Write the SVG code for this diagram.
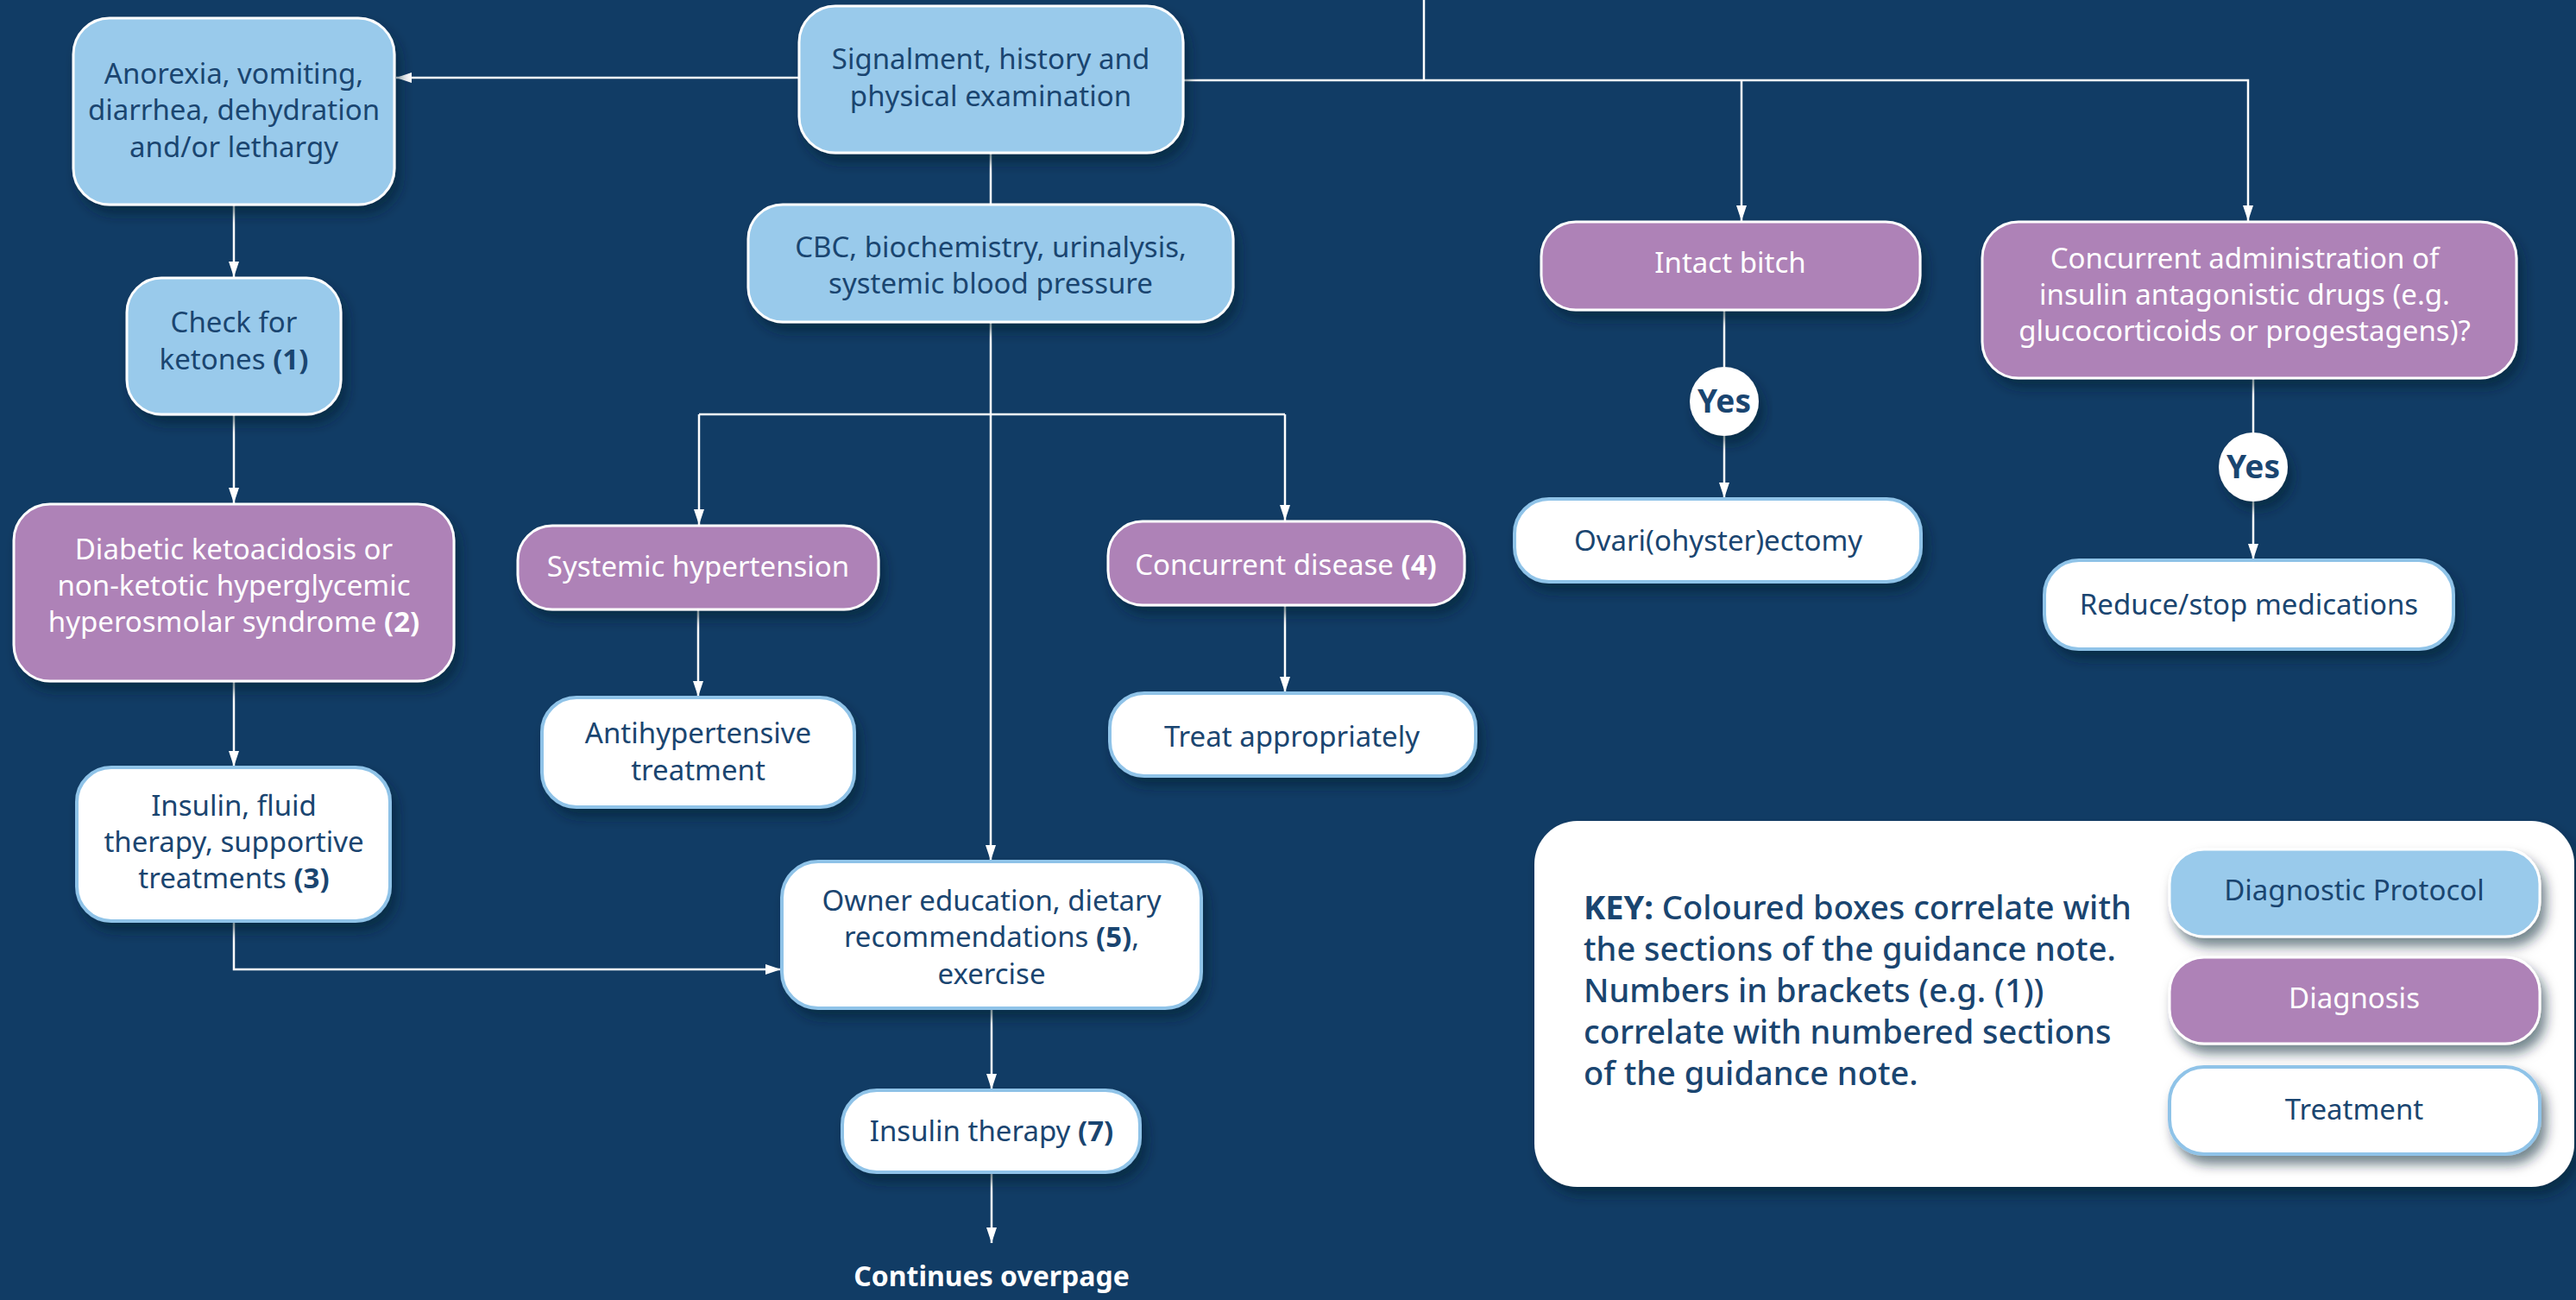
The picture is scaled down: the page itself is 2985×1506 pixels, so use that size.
<svg xmlns="http://www.w3.org/2000/svg" width="2985" height="1506" viewBox="0 0 2985 1506">
<style>
.bg{fill:#113c65}
.blue{fill:#99caeb;stroke:#ffffff;stroke-width:3}
.purple{fill:#ae82b7;stroke:#ffffff;stroke-width:3}
.white{fill:#ffffff;stroke:#8fc3e8;stroke-width:4}
.sh{filter:url(#shadow)}
text{font-family:"Noto Sans","Open Sans","Liberation Sans",sans-serif;font-size:33px;text-anchor:middle}
.tn{fill:#1a4570}
.tw{fill:#ffffff}
.b{font-weight:700}
.yes{font-size:37px;font-weight:700;fill:#1a4570}
.cont{font-size:32px;font-weight:700;fill:#ffffff}
.key{font-size:38px;font-weight:500;fill:#1a4570;text-anchor:start}
.conn path{fill:none;stroke:#ffffff;stroke-width:2.5}
</style>
<defs>
<filter id="shadow" x="-20%" y="-20%" width="140%" height="160%">
<feDropShadow dx="6" dy="10" stdDeviation="7" flood-color="#061a2e" flood-opacity="0.55"/>
</filter>
<marker id="ah" viewBox="0 0 18 12" refX="18" refY="6" markerWidth="18" markerHeight="12" markerUnits="userSpaceOnUse" orient="auto">
<path d="M0 0 L18 6 L0 12 z" fill="#ffffff"/>
</marker>
</defs>
<rect class="bg" x="0" y="0" width="2985" height="1506"/>

<g id="connectors" class="conn">
<path d="M926 90 H459" marker-end="url(#ah)"/>
<path d="M271 237 V321" marker-end="url(#ah)"/>
<path d="M271 480 V583" marker-end="url(#ah)"/>
<path d="M271 789 V888" marker-end="url(#ah)"/>
<path d="M271 1067 V1123 H905" marker-end="url(#ah)"/>
<path d="M1148 177 V237"/>
<path d="M1148 373 V997" marker-end="url(#ah)"/>
<path d="M810 480 H1489"/>
<path d="M810 480 V608" marker-end="url(#ah)"/>
<path d="M1489 480 V603" marker-end="url(#ah)"/>
<path d="M809 706 V807" marker-end="url(#ah)"/>
<path d="M1489 701 V802" marker-end="url(#ah)"/>
<path d="M1149 1168 V1262" marker-end="url(#ah)"/>
<path d="M1149 1358 V1440" marker-end="url(#ah)"/>
<path d="M1650 0 V93"/>
<path d="M1371 93 H2605 V256" marker-end="url(#ah)"/>
<path d="M2018 93 V256" marker-end="url(#ah)"/>
<path d="M1998 359 V425"/>
<path d="M1998 505 V577" marker-end="url(#ah)"/>
<path d="M2611 438 V501"/>
<path d="M2611 581 V648" marker-end="url(#ah)"/>
</g>

<g id="n_signalment">
<rect class="blue sh" x="926" y="7" width="445" height="170" rx="42"/>
<text class="tn" x="1148" y="80">Signalment, history and</text>
<text class="tn" x="1148" y="123">physical examination</text>
</g>

<g id="n_anorexia">
<rect class="blue sh" x="85" y="21" width="372" height="216" rx="42"/>
<text class="tn" x="271" y="97">Anorexia, vomiting,</text>
<text class="tn" x="271" y="139">diarrhea, dehydration</text>
<text class="tn" x="271" y="182">and/or lethargy</text>
</g>

<g id="n_ketones">
<rect class="blue sh" x="147" y="322" width="248" height="158" rx="40"/>
<text class="tn" x="271" y="385">Check for</text>
<text class="tn" x="271" y="428">ketones <tspan class="b">(1)</tspan></text>
</g>

<g id="n_cbc">
<rect class="blue sh" x="867" y="237" width="562" height="136" rx="40"/>
<text class="tn" x="1148" y="298">CBC, biochemistry, urinalysis,</text>
<text class="tn" x="1148" y="340">systemic blood pressure</text>
</g>

<g id="n_dka">
<rect class="purple sh" x="16" y="584" width="510" height="205" rx="42"/>
<text class="tw" x="271" y="648">Diabetic ketoacidosis or</text>
<text class="tw" x="271" y="690">non-ketotic hyperglycemic</text>
<text class="tw" x="271" y="732">hyperosmolar syndrome <tspan class="b">(2)</tspan></text>
</g>

<g id="n_insulin_fluid">
<rect class="white sh" x="89" y="889" width="363" height="178" rx="40"/>
<text class="tn" x="271" y="945">Insulin, fluid</text>
<text class="tn" x="271" y="987">therapy, supportive</text>
<text class="tn" x="271" y="1029">treatments <tspan class="b">(3)</tspan></text>
</g>

<g id="n_hypertension">
<rect class="purple sh" x="600" y="609" width="418" height="97" rx="40"/>
<text class="tw" x="809" y="668">Systemic hypertension</text>
</g>

<g id="n_antihyp">
<rect class="white sh" x="628" y="808" width="362" height="127" rx="40"/>
<text class="tn" x="809" y="861">Antihypertensive</text>
<text class="tn" x="809" y="904">treatment</text>
</g>

<g id="n_concurrent">
<rect class="purple sh" x="1284" y="604" width="413" height="97" rx="40"/>
<text class="tw" x="1490" y="666">Concurrent disease <tspan class="b">(4)</tspan></text>
</g>

<g id="n_treat">
<rect class="white sh" x="1286" y="803" width="424" height="96" rx="40"/>
<text class="tn" x="1497" y="865">Treat appropriately</text>
</g>

<g id="n_owner">
<rect class="white sh" x="906" y="998" width="486" height="170" rx="42"/>
<text class="tn" x="1149" y="1055">Owner education, dietary</text>
<text class="tn" x="1149" y="1097">recommendations <tspan class="b">(5)</tspan>,</text>
<text class="tn" x="1149" y="1140">exercise</text>
</g>

<g id="n_insulin_therapy">
<rect class="white sh" x="976" y="1263" width="345" height="95" rx="40"/>
<text class="tn" x="1149" y="1322">Insulin therapy <tspan class="b">(7)</tspan></text>
</g>

<g id="n_continues">
<text class="cont" x="1149" y="1490">Continues overpage</text>
</g>

<g id="n_intact">
<rect class="purple sh" x="1786" y="257" width="439" height="102" rx="40"/>
<text class="tw" x="2005" y="316">Intact bitch</text>
</g>

<g id="n_yes1">
<circle class="sh" cx="1998" cy="465" r="40" fill="#ffffff"/>
<text class="yes" x="1998" y="478">Yes</text>
</g>

<g id="n_ovari">
<rect class="white sh" x="1755" y="578" width="471" height="96" rx="40"/>
<text class="tn" x="1991" y="638">Ovari(ohyster)ectomy</text>
</g>

<g id="n_conc_admin">
<rect class="purple sh" x="2297" y="257" width="619" height="181" rx="42"/>
<text class="tw" x="2601" y="311">Concurrent administration of</text>
<text class="tw" x="2601" y="353">insulin antagonistic drugs (e.g.</text>
<text class="tw" x="2601" y="395">glucocorticoids or progestagens)?</text>
</g>

<g id="n_yes2">
<circle class="sh" cx="2611" cy="541" r="40" fill="#ffffff"/>
<text class="yes" x="2611" y="554">Yes</text>
</g>

<g id="n_reduce">
<rect class="white sh" x="2369" y="649" width="474" height="103" rx="40"/>
<text class="tn" x="2606" y="712">Reduce/stop medications</text>
</g>

<g id="key">
<rect class="sh" x="1778" y="951" width="1205" height="424" rx="50" fill="#ffffff"/>
<text class="key" x="1835" y="1065"><tspan font-weight="700">KEY:</tspan> Coloured boxes correlate with</text>
<text class="key" x="1835" y="1113">the sections of the guidance note.</text>
<text class="key" x="1835" y="1161">Numbers in brackets (e.g. (1))</text>
<text class="key" x="1835" y="1209">correlate with numbered sections</text>
<text class="key" x="1835" y="1257">of the guidance note.</text>
<g id="legend_diag_protocol">
<rect class="blue sh" x="2514" y="984" width="429" height="101" rx="40"/>
<text class="tn" x="2728" y="1043">Diagnostic Protocol</text>
</g>
<g id="legend_diagnosis">
<rect class="purple sh" x="2514" y="1109" width="429" height="100" rx="40"/>
<text class="tw" x="2728" y="1168">Diagnosis</text>
</g>
<g id="legend_treatment">
<rect class="white sh" x="2514" y="1236" width="429" height="101" rx="40"/>
<text class="tn" x="2728" y="1297">Treatment</text>
</g>
</g>
</svg>
